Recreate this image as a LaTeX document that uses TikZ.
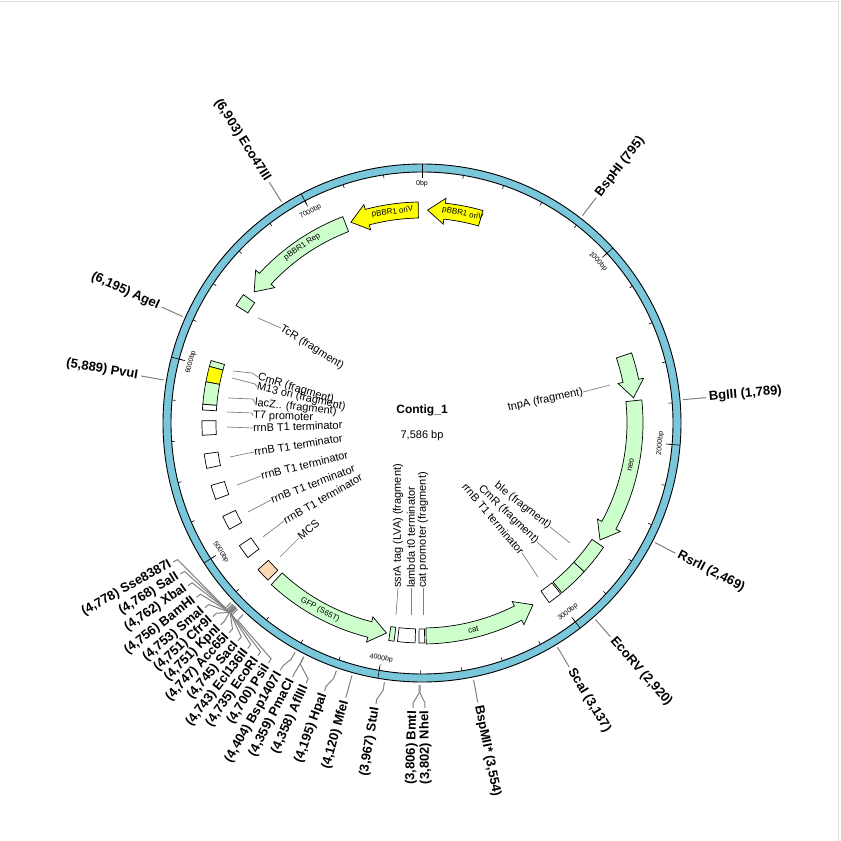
\documentclass[tikz,border=0pt]{standalone}
\usepackage{fontspec}
\setmainfont{Liberation Sans}
\begin{document}
\definecolor{ringblue}{RGB}{122,198,218}
\definecolor{fgreen}{RGB}{204,255,204}
\definecolor{fyellow}{RGB}{255,255,0}
\definecolor{fpeach}{RGB}{250,216,182}
\definecolor{lgray}{RGB}{128,128,128}
\begin{tikzpicture}[x=1pt,y=1pt,
  sitelab/.style={font=\fontsize{13}{15}\selectfont\bfseries, inner sep=0pt},
  siteline/.style={draw=lgray, line width=1pt},
  featlab/.style={font=\fontsize{11}{13}\selectfont, inner sep=0pt},
  inlab/.style={font=\fontsize{8}{9}\selectfont, inner sep=0pt},
  ticklab/.style={font=\fontsize{7}{8}\selectfont, inner sep=0pt},
  leader/.style={draw=lgray, line width=0.7pt},
  feat/.style={draw=black, line width=0.7pt}]
\useasboundingbox (0,0) rectangle (841,841);
\draw[gray!25, line width=1pt] (0,839) -- (838,839) -- (838,0);

% ---- macros
\newcommand\farrow[5]{%
  \pgfmathsetmacro\sgn{sign(#2-#1)}%
  \pgfmathsetmacro\hb{#2-\sgn*4.6}%
  \pgfmathsetmacro\mm{(#1+\hb)/2}%
  \pgfmathsetmacro\rt{ifthenelse(cos(\mm)>=0,-\mm,180-\mm)}%
  \draw[feat, fill=#3] ({90-#1}:205) arc[start angle={90-#1}, end angle={90-\hb}, radius=205]
     -- ({90-\hb}:200) -- ({90-#2}:213) -- ({90-\hb}:226) -- ({90-\hb}:221)
     arc[start angle={90-\hb}, end angle={90-#1}, radius=221] -- cycle;
  \node[inlab, rotate=\rt] (#5) at ({90-\mm}:213) {#4};}
\newcommand\fbx[3]{%
  \draw[feat, fill=#3] ({90-#1}:206) arc[start angle={90-#1}, end angle={90-#2}, radius=206]
     -- ({90-#2}:220) arc[start angle={90-#2}, end angle={90-#1}, radius=220] -- cycle;}
\newcommand\siteR[4]{%
  \pgfmathsetmacro\sa{#1/7586*360}%
  \draw[siteline] ({90-\sa}:262) -- ({90-\sa}:270) -- ({90-#2}:280) -- ({90-#2}:285);
  \node[sitelab, anchor=west, rotate={90-#2}] (#4) at ({90-#2}:288) {#3};}
\newcommand\siteL[4]{%
  \pgfmathsetmacro\sa{#1/7586*360}%
  \draw[siteline] ({90-\sa}:262) -- ({90-\sa}:270) -- ({90-#2}:280) -- ({90-#2}:285);
  \node[sitelab, anchor=east, rotate={270-#2}] (#4) at ({90-#2}:288) {#3};}

\begin{scope}[shift={(422,418)}]
% ring
\draw[line width=0.9pt, fill=ringblue, even odd rule] (0,0) circle[radius=259] (0,0) circle[radius=251];
\foreach \k in {0,...,37} {
  \pgfmathsetmacro\a{90-\k*9.49116}
  \draw[line width=0.6pt] (\a:251) -- (\a:247.5);
}
\foreach \k in {0,...,7} {
  \pgfmathsetmacro\c{\k*47.4558}
  \pgfmathsetmacro\rot{ifthenelse(cos(\c)>=0,-\c,180-\c)}
  \draw[line width=0.6pt] ({90-\c}:259) -- ({90-\c}:245);
  \node[ticklab, rotate=\rot] (t\k) at ({90-\c}:239) {\ifnum\k=0 0\else\k000\fi bp};
}

% features
\farrow{16}{1.5}{fyellow}{pBBR1 oriV}{ori1}
\farrow{-1}{-19.5}{fyellow}{pBBR1 oriV}{ori2}
\farrow{-21}{-52}{fgreen}{pBBR1 Rep}{rep}
\fbx{-57.7}{-54.3}{fgreen}
\fbx{-73.5}{-75.1}{fgreen}
\fbx{-75.1}{-79.2}{fyellow}
\fbx{-79.2}{-85.1}{fgreen}
\fbx{-85.1}{-86.6}{white}
\fbx{-93.2}{-89.4}{white}
\fbx{-101.9}{-98.1}{white}
\fbx{-110.3}{-106.5}{white}
\fbx{-118.9}{-115.1}{white}
\fbx{-127.7}{-123.9}{white}
\fbx{-135.6}{-131.8}{fpeach}
\farrow{223}{189.6}{fgreen}{GFP (S65T)}{gfp}
\fbx{188.7}{187.3}{fgreen}
\fbx{186.4}{181.8}{white}
\fbx{180.8}{179.3}{white}
\farrow{178.9}{148.6}{fgreen}{cat}{cat}
\fbx{144.7}{140.9}{white}
\fbx{140.5}{132.5}{fgreen}
\fbx{132.5}{124.4}{fgreen}
\farrow{84}{123.3}{fgreen}{neo}{neo}
\farrow{71.5}{83.2}{fgreen}{}{tnpa}

% sites
\siteR{795}{37.7}{BspHI (795)}{s1}
\siteR{1789}{84.9}{BglII (1,789)}{s2}
\siteR{2469}{117.2}{RsrII (2,469)}{s3}
\siteR{2920}{138.6}{EcoRV (2,920)}{s4}
\siteR{3137}{148.9}{ScaI (3,137)}{s5}
\siteR{3554}{168.7}{BspMII* (3,554)}{s6}
\siteL{3802}{179.4}{(3,802) NheI}{s7}
\siteL{3806}{181.8}{(3,806) BmtI}{s8}
\siteL{3967}{189.3}{(3,967) StuI}{s9}
\siteL{4120}{195.5}{(4,120) MfeI}{s10}
\siteL{4195}{200}{(4,195) HpaI}{s11}
\siteL{4358}{204}{(4,358) AflIII}{s12}
\siteL{4359}{207}{(4,359) PmaCI}{s13}
\siteL{4404}{209.8}{(4,404) Bsp1407I}{s14}
\siteL{4700}{212.6}{(4,700) PsiI}{s15}
\siteL{4735}{215.2}{(4,735) EcoRI}{s16}
\siteL{4743}{217.7}{(4,743) Ecl136II}{s17}
\siteL{4745}{220.2}{(4,745) SacI}{s18}
\siteL{4747}{222.6}{(4,747) Acc65I}{s19}
\siteL{4751}{224.9}{(4,751) KpnI}{s20}
\siteL{4751}{227.2}{(4,751) Cfr9I}{s21}
\siteL{4753}{229.6}{(4,753) SmaI}{s22}
\siteL{4756}{232.3}{(4,756) BamHI}{s23}
\siteL{4762}{235.2}{(4,762) XbaI}{s24}
\siteL{4768}{238}{(4,768) SalI}{s25}
\siteL{4778}{240.8}{(4,778) Sse8387I}{s26}
\siteL{5889}{279.5}{(5,889) PvuI}{s27}
\siteL{6195}{294}{(6,195) AgeI}{s28}
\siteL{6903}{327.6}{(6,903) Eco47III}{s29}
\end{scope}

% centre
\node[font=\fontsize{12}{14}\selectfont\bfseries, inner sep=0pt] (title) at (422,431) {Contig\_1};
\node[font=\fontsize{11}{13}\selectfont, inner sep=0pt] (len) at (422,405) {7,586 bp};

% feature labels with leaders
\node[featlab, anchor=west, rotate=-32] (lTcR) at (281,513) {TcR (fragment)};
\draw[leader] (258,523) -- (lTcR.west);
\node[featlab, anchor=west, rotate=-17] (lCmR) at (258,464) {CmR (fragment)};
\draw[leader] (233,470) -- (252,468) -- (lCmR.west);
\node[featlab, anchor=west, rotate=-13] (lM13) at (257,454) {M13 ori (fragment)};
\draw[leader] (232,463) -- (255,457) -- (lM13.west);
\node[featlab, anchor=west, rotate=-6] (llac) at (255,438) {lacZ.. (fragment)};
\draw[leader] (228,443) -- (253,442) -- (llac.west);
\node[featlab, anchor=west, rotate=-2] (lT7) at (253,425) {T7 promoter};
\draw[leader] (227,429) -- (252,428) -- (lT7.west);
\node[featlab, anchor=west, rotate=2] (lr1) at (253,413) {rrnB T1 terminator};
\draw[leader] (227,414) -- (lr1.west);
\node[featlab, anchor=west, rotate=9] (lr2) at (254,389) {rrnB T1 terminator};
\draw[leader] (230,384) -- (lr2.west);
\node[featlab, anchor=west, rotate=14] (lr3) at (261,365) {rrnB T1 terminator};
\draw[leader] (237,356) -- (lr3.west);
\node[featlab, anchor=west, rotate=21] (lr4) at (271,341) {rrnB T1 terminator};
\draw[leader] (248,329) -- (lr4.west);
\node[featlab, anchor=west, rotate=30] (lr5) at (284,320) {rrnB T1 terminator};
\draw[leader] (263,304) -- (lr5.west);
\node[featlab, anchor=west, rotate=40] (lmcs) at (299,303) {MCS};
\draw[leader] (280,284) -- (lmcs.west);
\node[featlab, anchor=west, rotate=90] (lssr) at (398,253) {ssrA tag (LVA) (fragment)};
\draw[leader] (396,226) -- (lssr.west);
\node[featlab, anchor=west, rotate=90] (llam) at (411,253) {lambda t0 terminator};
\draw[leader] (411,226) -- (llam.west);
\node[featlab, anchor=west, rotate=90] (lcatp) at (423,253) {cat promoter (fragment)};
\draw[leader] (423,226) -- (lcatp.west);
\node[featlab, anchor=east, rotate=-38] (lble) at (550,314) {ble (fragment)};
\draw[leader] (570,298) -- (lble.east);
\node[featlab, anchor=east, rotate=-44] (lCmR2) at (537,299) {CmR (fragment)};
\draw[leader] (557,281) -- (lCmR2.east);
\node[featlab, anchor=east, rotate=-50] (lrr) at (522,288) {rrnB T1 terminator};
\draw[leader] (538,264) -- (lrr.east);
\node[featlab, anchor=east, rotate=12] (ltnp) at (583,449) {tnpA (fragment)};
\draw[leader] (610,456) -- (ltnp.east);
\end{tikzpicture}
\end{document}
